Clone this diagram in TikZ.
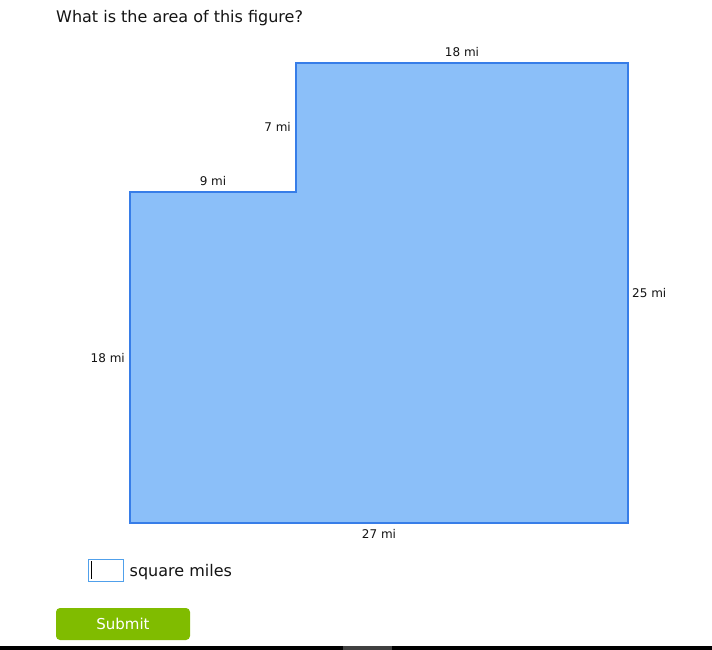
\documentclass[tikz,border=0pt]{standalone}
\usepackage{fontspec}
\setmainfont{DejaVu Sans}
\definecolor{shapefill}{RGB}{139,191,249}
\definecolor{shapeedge}{RGB}{55,125,232}
\definecolor{boxedge}{RGB}{80,160,235}
\definecolor{btngreen}{RGB}{128,188,0}
\definecolor{labeltext}{RGB}{20,20,20}

\begin{document}
\begin{tikzpicture}[x=1pt, y=-1pt,
        question/.style=
            {
                inner sep = 0pt,
                anchor = west,
                font = \fontsize{16}{19}\selectfont,
                text = labeltext
            },
        measure/.style=
            {
                inner sep = 0pt,
                font = \fontsize{12}{14}\selectfont,
                text = labeltext
            },
        answerbox/.style=
            {
                rectangle,
                draw = boxedge,
                line width = 1pt,
                fill = white,
                minimum width = 35pt,
                minimum height = 22pt,
                inner sep = 0pt
            },
        button/.style=
            {
                rectangle,
                fill = btngreen,
                rounded corners = 4pt,
                minimum width = 134pt,
                minimum height = 32pt,
                text = white,
                font = \fontsize{15}{18}\selectfont,
                inner sep = 0pt
            }
    ]

    \useasboundingbox (0,0) rectangle (712,650);
    \fill[white] (0,0) rectangle (712,650);

    \draw (56,18) node[question] (Q) {What is the area of this figure?};

    % the figure
    \draw[shapeedge, fill = shapefill, line width = 2pt]
        (130,192) -- (296,192) -- (296,63) -- (628,63)
        -- (628,523) -- (130,523) -- cycle;

    \draw (462,52) node[measure] (top) {18 mi};
    \draw (291,127) node[measure, anchor = east] (step) {7 mi};
    \draw (213,181) node[measure] (ledge) {9 mi};
    \draw (632,293) node[measure, anchor = west] (right) {25 mi};
    \draw (125,358) node[measure, anchor = east] (left) {18 mi};
    \draw (379,534) node[measure] (bottom) {27 mi};

    % answer row
    \draw (105.5,570) node[answerbox] (A) {};
    \draw[black, line width = 1pt] (91,561) -- (91,579);
    \draw (A.east) node[question, xshift = 6pt, yshift = -2.5pt] (unit) {square miles};

    \draw (123,624) node[button] (B) {Submit};

    \fill[black] (0,646) rectangle (712,650);
    \fill[black!75] (343,646) rectangle (392,650);

\end{tikzpicture}
\end{document}
